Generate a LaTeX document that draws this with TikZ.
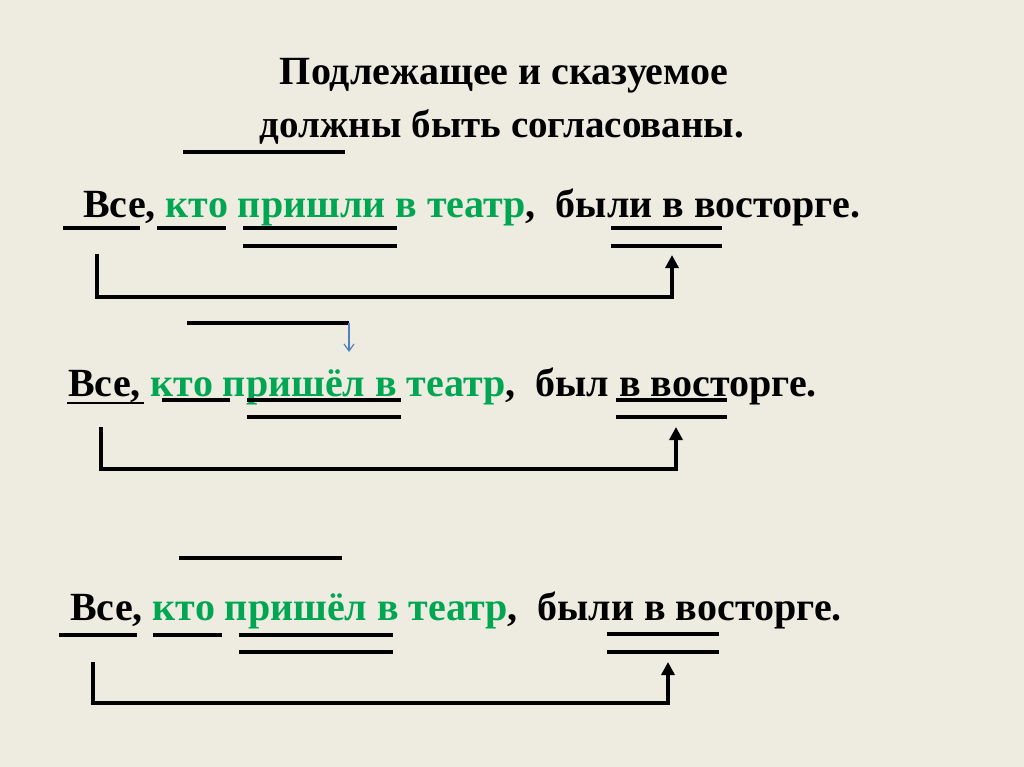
\documentclass[tikz,border=0pt]{standalone}
\usepackage{fontspec}
\setmainfont{Liberation Serif}
\usetikzlibrary{arrows.meta}
\definecolor{bgbeige}{RGB}{238,236,225}
\definecolor{wordgreen}{RGB}{0,166,81}
\definecolor{hintblue}{RGB}{79,129,189}

\begin{document}
\begin{tikzpicture}[
      x=1pt, y=-1pt,
      font=\bfseries\fontsize{40}{48}\selectfont,
      every node/.style = {inner sep=0pt, anchor=base west},
      title/.style={anchor=base},
      mark line/.style={line width=3.5pt},
      thin mark/.style={line width=1.6pt},
      link/.style={line width=3.5pt, -{Triangle[length=13pt,width=13pt]}},
      hint/.style={hintblue, line width=1.2pt, -{Straight Barb[length=7pt,width=10pt]}}
    ]
      \fill[bgbeige] (0,0) rectangle (1024,767);

      \node[title] (title a) at (504,85) {Подлежащее и сказуемое};
      \node[title, font=\bfseries\fontsize{39}{47}\selectfont] (title b) at (502,138) {должны быть согласованы.};

      % first sentence
      \node (first) at (83,218) {Все, \textcolor{wordgreen}{кто пришли в театр},\ \ были в восторге.};
      \draw[mark line] (183,152) -- (345,152);
      \draw[mark line] (63,228) -- (140,228) (157,228) -- (226,228)
        (243,228) -- (397,228) (243,246) -- (397,246);
      \draw[mark line] (611,228) -- (722,228) (611,246) -- (722,246);
      \coordinate (subj first) at (97,254);
      \coordinate (pred first) at (672,255);
      \draw[link] (subj first) -- ++(0,43) -| (pred first);

      % second sentence
      \node (second) at (68,396) {Все, \textcolor{wordgreen}{кто пришёл в театр},\ \ был в восторге.};
      \draw[mark line] (187,323) -- (349,323);
      \draw[hint] (349,323) -- (349,352);
      \draw[thin mark] (67,403) -- (144,403);
      \draw[mark line] (162,400) -- (230,400)
        (247,400) -- (401,400) (247,417) -- (401,417);
      \draw[mark line] (616,400) -- (727,400) (616,417) -- (727,417);
      \coordinate (subj second) at (101,427);
      \coordinate (pred second) at (676,427);
      \draw[link] (subj second) -- ++(0,42) -| (pred second);

      % third sentence
      \node (third) at (70,620) {Все, \textcolor{wordgreen}{кто пришёл в театр},\ \ были в восторге.};
      \draw[mark line] (179,558) -- (342,558);
      \draw[mark line] (59,635) -- (137,635) (153,635) -- (222,635)
        (239,635) -- (393,635) (239,652) -- (393,652);
      \draw[mark line] (607,634) -- (719,634) (607,652) -- (719,652);
      \coordinate (subj third) at (93,662);
      \coordinate (pred third) at (668,662);
      \draw[link] (subj third) -- ++(0,41) -| (pred third);
  \end{tikzpicture}
\end{document}
